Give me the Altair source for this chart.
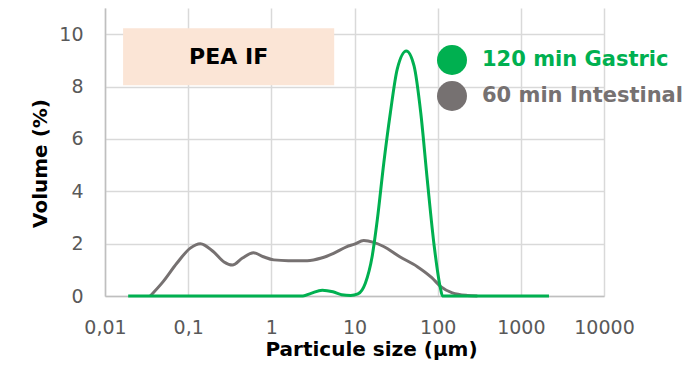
import altair as alt
import pandas as pd

# ---- data ----
gastric_size = [0.019, 0.5, 2.4, 3.0, 4.1, 5.5, 7.0, 9.0, 11.0, 13.5, 16.3, 18.8, 22.5, 27.0,
                32.6, 42.0, 52.0, 62.6, 75.0, 91.0, 109.0, 114.0, 500.0, 2180.0]
gastric_vol = [0, 0, 0, 0.1, 0.22, 0.16, 0.05, 0.02, 0.08, 0.49, 1.51, 2.91, 5.08, 7.0,
               8.66, 9.36, 8.79, 7.0, 4.44, 1.89, 0.23, 0, 0, 0]

intest_size = [0.035, 0.05, 0.073, 0.106, 0.14, 0.2, 0.27, 0.34, 0.45, 0.61, 0.8, 1.07, 1.6,
               2.7, 4.0, 5.6, 8.0, 10.0, 12.9, 17.0, 22.4, 35.0, 57.0, 85.0, 109.0, 150.0,
               228.0, 300.0]
intest_vol = [0, 0.55, 1.25, 1.83, 2.0, 1.7, 1.3, 1.18, 1.45, 1.65, 1.5, 1.38, 1.35,
              1.35, 1.45, 1.63, 1.88, 1.98, 2.12, 2.05, 1.89, 1.5, 1.12, 0.7, 0.36, 0.12,
              0.02, 0]

series_names = ["120 min Gastric", "60 min Intestinal"]
series_colors = ["#00B050", "#767171"]

x_ticks = [0.01, 0.1, 1, 10, 100, 1000, 10000]
y_ticks = [0, 2, 4, 6, 8, 10]

label_text = ["PEA IF"]
label_box_x = [0.0165, 5.7]
label_box_y = [8.05, 10.23]

FONT = "DejaVu Sans"

df_g = pd.DataFrame({"size": gastric_size, "vol": gastric_vol, "series": series_names[0]})
df_i = pd.DataFrame({"size": intest_size, "vol": intest_vol, "series": series_names[1]})
df_leg = pd.DataFrame({"series": series_names})
df_box = pd.DataFrame({"x": [label_box_x[0]], "x2": [label_box_x[1]],
                       "y": [label_box_y[0]], "y2": [label_box_y[1]],
                       "xc": [(label_box_x[0] * label_box_x[1]) ** 0.5],
                       "yc": [(label_box_y[0] + label_box_y[1]) / 2],
                       "t": label_text})

x_scale = alt.Scale(type="log", domain=[0.01, 10000])
y_scale = alt.Scale(domain=[0, 11])

x_axis = alt.Axis(
    values=x_ticks,
    labelExpr="replace(toString(datum.value), '.', ',')",
    labelOverlap=False, labelFlush=False, labelBound=False,
    title="Particule size (µm)",
    titleX=266, titleY=53, titleBaseline="middle",
    labelPadding=31, labelBaseline="middle",
)
y_axis = alt.Axis(
    values=y_ticks,
    title="Volume (%)",
    titleX=-65, titleY=155, titleAngle=-90, titleBaseline="middle",
    labelPadding=22,
)

X = alt.X("size:Q", scale=x_scale, axis=x_axis)
Y = alt.Y("vol:Q", scale=y_scale, axis=y_axis)

line_i = alt.Chart(df_i).mark_line(strokeWidth=3, interpolate="monotone",
                                   color=series_colors[1]).encode(x=X, y=Y)
line_g = alt.Chart(df_g).mark_line(strokeWidth=3, interpolate="monotone",
                                   color=series_colors[0]).encode(
    x=alt.X("size:Q", scale=x_scale), y=alt.Y("vol:Q", scale=y_scale))

box = alt.Chart(df_box).mark_rect(color="#FBE5D6").encode(
    x=alt.X("x:Q", scale=x_scale), x2="x2:Q",
    y=alt.Y("y:Q", scale=y_scale), y2="y2:Q")
box_text = alt.Chart(df_box).mark_text(font=FONT, fontSize=22, fontWeight="bold",
                                       color="#000000").encode(
    x=alt.X("xc:Q", scale=x_scale), y=alt.Y("yc:Q", scale=y_scale), text="t:N")

legend_layer = alt.Chart(df_leg).mark_circle().encode(
    color=alt.Color(
        "series:N",
        scale=alt.Scale(domain=series_names, range=series_colors),
        legend=alt.Legend(
            title=None, orient="none", legendX=332, legendY=37,
            symbolType="circle", symbolSize=900, symbolStrokeWidth=0, symbolOpacity=1,
            labelFont=FONT, labelFontSize=21, labelFontWeight="bold",
            labelColor={"expr": "datum.label === '120 min Gastric' ? '#00B050' : '#767171'"},
            labelOffset=15, rowPadding=6, labelLimit=400, padding=0,
        ),
    )
).transform_filter("false")

chart = alt.layer(line_i, box, box_text, line_g, legend_layer).properties(
    width=499, height=288,
    autosize=alt.AutoSizeParams(type="none"),
    padding={"left": 97, "top": 0, "right": 80, "bottom": 64},
).configure_view(stroke=None).configure_axis(
    grid=True, gridColor="#D9D9D9", gridWidth=1.5,
    domainColor="#BFBFBF", domainWidth=1.5,
    ticks=False, tickSize=0,
    labelFont=FONT, labelFontSize=19, labelColor="#595959",
    titleFont=FONT, titleFontSize=20, titleFontWeight="bold", titleColor="#000000",
)

chart.save("out.html", embed_options={"renderer": "svg", "actions": False})
